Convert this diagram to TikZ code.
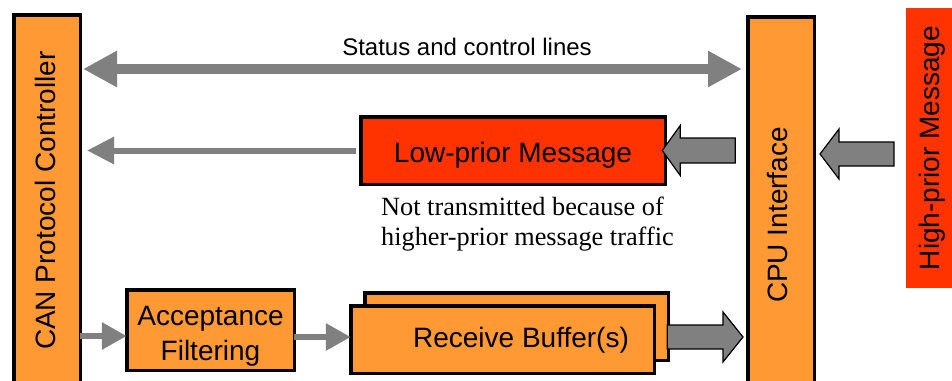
\documentclass[tikz,border=0pt]{standalone}
\usepackage{fontspec}
\setmainfont{Liberation Sans}
\newfontfamily\notefont{Liberation Serif}
\usetikzlibrary{arrows.meta,calc}
\definecolor{canorange}{HTML}{FF9933}
\definecolor{canred}{HTML}{FF3300}
\definecolor{arrowgray}{HTML}{808080}
\tikzset{
  box/.style={draw=black, line width=3.5pt, inner sep=0pt, outer sep=0pt, anchor=north west},
  orangebox/.style={box, fill=canorange},
  redbox/.style={box, fill=canred},
  lbl/.style={font=\fontsize{28}{35}\selectfont, inner sep=0pt, outer sep=0pt},
  garrow/.style={draw=arrowgray, line width=6pt},
  barrow/.style={fill=arrowgray, draw=black, line width=1.2pt, line join=miter},
}
\begin{document}
\begin{tikzpicture}[x=1pt,y=-1pt]
\clip (0,0) rectangle (952,380);
\fill[white] (0,0) rectangle (952,380);
% boxes
\node[orangebox, minimum width=66.5pt, minimum height=385pt] (can) at (13.75,14.75) {};
\node[orangebox, minimum width=66.5pt, minimum height=383pt] (cpu) at (747.75,16.75) {};
\node[redbox, minimum width=304.5pt, minimum height=67.5pt] (low) at (360.75,116.75) {};
\node[orangebox, minimum width=167.5pt, minimum height=80.5pt] (acc) at (126.75,289.75) {};
\node[fill=canred, draw=none, inner sep=0pt, outer sep=0pt, anchor=north west, minimum width=60pt, minimum height=280pt] (high) at (906,8) {};
% block arrow receive -> cpu (drawn before buffers)
\node[orangebox, minimum width=303.5pt, minimum height=67.5pt] (recb) at (364.75,292.75) {};
\coordinate (rt) at ([xshift=-4.75pt]cpu.west |- 0,337);
\draw[barrow] (rt) -- ++(-20,-25) -- ++(0,13) -- ($(recb.east |- 0,325)+(-1,0)$) -- ($(recb.east |- 0,349)+(-1,0)$) -- ($(rt)+(-20,12)$) -- ++(0,13) -- cycle;
\node[orangebox, minimum width=303.5pt, minimum height=67.5pt] (recf) at (350.75,305.75) {};
% labels
\node[lbl, rotate=90, anchor=base] (canlbl) at (55,200.6) {CAN Protocol Controller};
\node[lbl, rotate=90, anchor=base] (cpulbl) at (787,215) {CPU Interface};
\node[lbl, rotate=90, anchor=base] (highlbl) at (939,148) {High-prior Message};
\node[lbl, anchor=base] (lowlbl) at (low.center |- 0,162) {Low-prior Message};
\node[lbl, align=center] (acclbl) at (210.5,336.5) {Acceptance\\Filtering};
\node[lbl, anchor=base] (reclbl) at (521,347) {Receive Buffer(s)};
\node[font=\fontsize{24}{29}\selectfont, inner sep=0pt, anchor=base] (statlbl) at (467,55) {Status and control lines};
\node[font=\notefont\fontsize{26.3}{30}\selectfont, inner sep=0pt, align=left, anchor=west] (note) at (381,223.9) {Not transmitted because of\\higher-prior message traffic};
% thin arrows
\draw[draw=arrowgray, line width=10pt, {Triangle[length=34pt,width=34pt]}-{Triangle[length=34pt,width=34pt]}, shorten <=2.75pt, shorten >=5.75pt]
  (can.east |- 0,69) -- (cpu.west |- 0,69);
\draw[garrow, -{Triangle[length=27pt,width=26pt]}, shorten <=4.75pt, shorten >=6.75pt] (low.west) -- (can.east |- low.west);
\draw[garrow, -{Triangle[length=25pt,width=26pt]}] (can.east |- 0,336) -- (acc.west |- 0,336);
\draw[garrow, -{Triangle[length=25pt,width=26pt]}] (acc.east |- 0,337) -- (recf.west |- 0,337);
% block arrows
\coordinate (lt) at ([xshift=-3pt]low.east);
\draw[barrow] (lt) -- ++(18,-25) -- ++(0,12.5) -- ++(55,0) -- ++(0,25) -- ++(-55,0) -- ++(0,12.5) -- cycle;
\coordinate (ht) at ([xshift=5.75pt]cpu.east |- 0,154);
\draw[barrow] (ht) -- ++(19,-25) -- ++(0,13) -- ++(55,0) -- ++(0,24) -- ++(-55,0) -- ++(0,13) -- cycle;
\end{tikzpicture}
\end{document}
